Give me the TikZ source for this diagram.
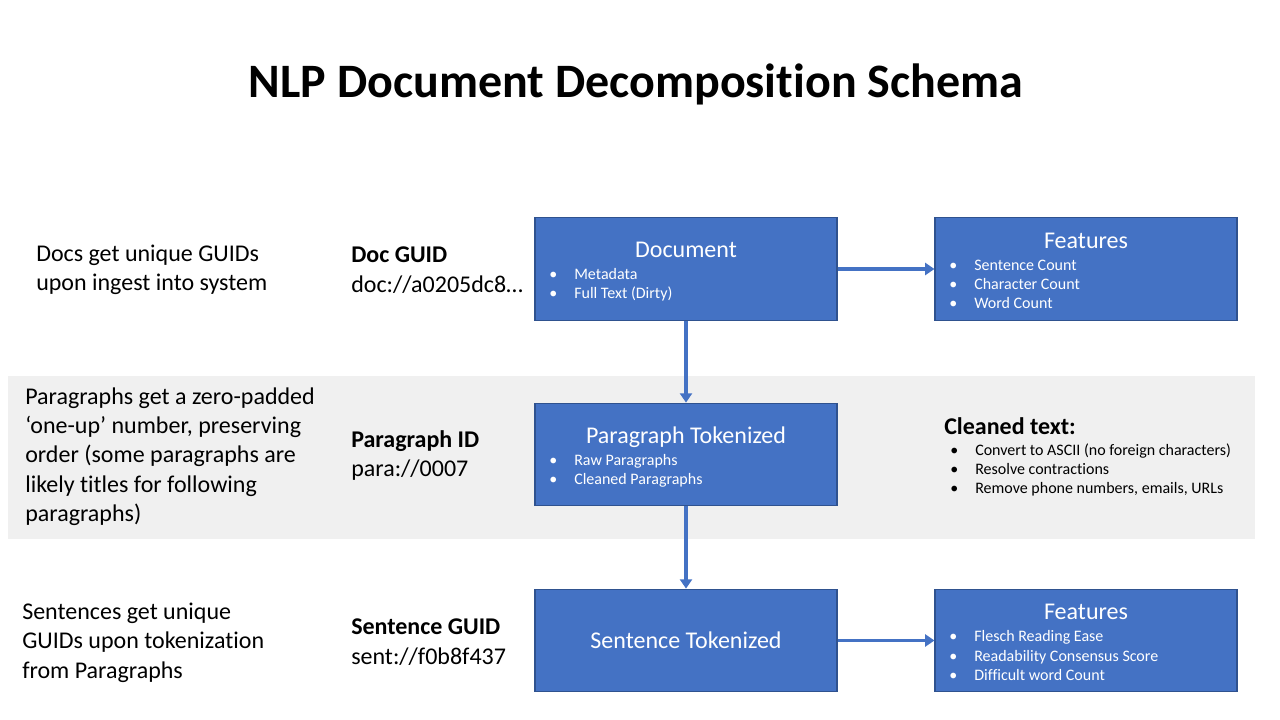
\documentclass[tikz,border=0pt]{standalone}
\usepackage{fontspec}
\setmainfont{Carlito}[Ligatures=NoCommon]
\usetikzlibrary{arrows.meta}
\definecolor{boxblue}{HTML}{4472C4}
\definecolor{boxedge}{HTML}{2F528F}
\definecolor{bandgray}{HTML}{F0F0F0}
\newcommand{\blt}{\makebox[18.75pt][l]{\textbullet}}
\tikzset{
    stagebox/.style={rectangle, fill=boxblue, draw=boxedge, line width=0.8pt,
        minimum width=226.5pt, minimum height=77pt, text=white,
        font=\fontsize{18}{22}\selectfont},
    boxtitle/.style={text=white, inner sep=0pt, font=\fontsize{18}{22}\selectfont},
    bulletlist/.style={anchor=west, align=left, inner sep=0pt, text=white,
        font=\fontsize{12}{14.3}\selectfont},
    sidetext/.style={anchor=west, align=left, inner sep=0pt,
        font=\fontsize{18}{22}\selectfont},
    flow/.style={draw=boxblue, line width=2.3pt, -{Triangle[length=7pt,width=9pt]}}
}
\begin{document}
\begin{tikzpicture}[x=0.75pt,y=-0.75pt]
        \useasboundingbox (0,0) rectangle (1280,720);
        % Title
        \node[font=\fontsize{36}{43}\selectfont\bfseries] (title) at (636,84)
            {NLP Document Decomposition Schema};
        % Shaded paragraph band
        \fill[bandgray] (8,376) rectangle (1255,539);
        % Stage boxes
        \node[stagebox] (doc)   at (686,269)   {};
        \node[stagebox] (featA) at (1086,269)  {};
        \node[stagebox] (para)  at (686,454.5) {};
        \node[stagebox] (sent)  at (686,640.5) {Sentence Tokenized};
        \node[stagebox] (featB) at (1086,640.5) {};
        % Box contents
        \node[boxtitle] (docT) at (686,250) {Document};
        \node[bulletlist] (docL) at (549,285)
            {\blt Metadata\\ \blt Full Text (Dirty)};
        \node[boxtitle] (featAT) at (1086,240.5) {Features};
        \node[bulletlist] (featAL) at (949,284)
            {\blt Sentence Count\\ \blt Character Count\\ \blt Word Count};
        \node[boxtitle] (paraT) at (686,437) {Paragraph Tokenized};
        \node[bulletlist] (paraL) at (549,471)
            {\blt Raw Paragraphs\\ \blt Cleaned Paragraphs};
        \node[boxtitle] (featBT) at (1086,611.5) {Features};
        \node[bulletlist] (featBL) at (949,655.5)
            {\blt Flesch Reading Ease\\ \blt Readability Consensus Score\\ \blt Difficult word Count};
        % Cleaned text notes
        \node[sidetext, font=\fontsize{18}{22}\selectfont\bfseries] (cleanT) at (944,426)
            {Cleaned text:};
        \node[bulletlist, text=black] (cleanL) at (950,470)
            {\blt Convert to ASCII (no foreign characters)\\ \blt Resolve contractions\\
             \blt Remove phone numbers,\ emails, URLs};
        % Left descriptions
        \node[sidetext] (docD) at (36,270)
            {Docs get unique GUIDs\\ upon ingest into system};
        \node[sidetext] (paraD) at (25,456.5)
            {Paragraphs get a zero-padded\\ ‘one-up’ number, preserving\\
             order (some paragraphs are\\ likely titles for following\\ paragraphs)};
        \node[sidetext] (sentD) at (22,642.5)
            {Sentences get unique\\ GUIDs upon tokenization\\ from Paragraphs};
        % Identifier labels
        \node[sidetext] (docID) at (351,270)
            {\textbf{Doc GUID}\\ doc://a0205dc8…};
        \node[sidetext] (paraID) at (351,455.5)
            {\textbf{Paragraph ID}\\ para://0007};
        \node[sidetext] (sentID) at (351,642)
            {\textbf{Sentence GUID}\\ sent://f0b8f437};
        % Connectors
        \draw[flow] (doc.east) -- (featA.west);
        \draw[flow] (doc.south) -- (para.north);
        \draw[flow] (para.south) -- (sent.north);
        \draw[flow] (sent.east) -- (featB.west);
    \end{tikzpicture}
\end{document}
